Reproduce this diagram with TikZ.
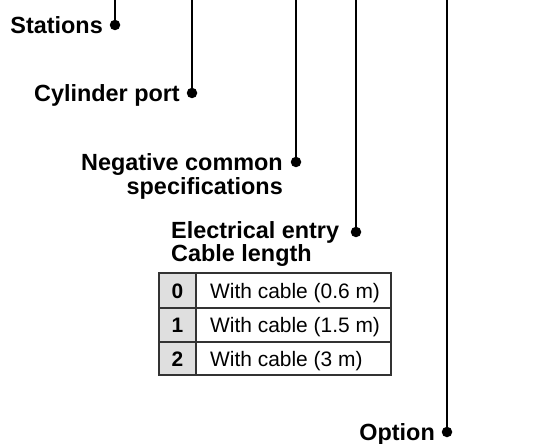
\documentclass[tikz,border=0pt]{standalone}
\usepackage{fontspec}
\setmainfont{Liberation Sans}
\definecolor{cellgray}{HTML}{DFDFDF}
\begin{document}
\begin{tikzpicture}[x=1bp,y=-1bp,
  lbl/.style={inner sep=0pt,font=\bfseries\fontsize{23.5}{24}\selectfont},
  cell/.style={inner sep=0pt,font=\fontsize{21}{24}\selectfont},
  cellnum/.style={inner sep=0pt,font=\bfseries\fontsize{21}{24}\selectfont},
  dotmark/.style={circle,fill=black,inner sep=0pt,minimum size=10.5bp},
  leader/.style={line width=2bp,black},
  grid/.style={line width=1.2bp,black!80}]
\useasboundingbox (0,0) rectangle (540,444);
% leader tops
\coordinate (t1) at (115,0);
\coordinate (t2) at (192,0);
\coordinate (t3) at (296,0);
\coordinate (t4) at (356,0);
\coordinate (t5) at (447,0);
% dots
\node[dotmark] (d1) at (115,25) {};
\node[dotmark] (d2) at (192,93) {};
\node[dotmark] (d3) at (296,162) {};
\node[dotmark] (d4) at (356,232) {};
\node[dotmark] (d5) at (447,432) {};
\draw[leader] (t1) -- (d1.center);
\draw[leader] (t2) -- (d2.center);
\draw[leader] (t3) -- (d3.center);
\draw[leader] (t4) -- (d4.center);
\draw[leader] (t5) -- (d5.center);
% labels
\node[lbl,anchor=base east] (stations) at (103,33.5) {Stations};
\node[lbl,anchor=base east] (cylport) at (180,101.5) {Cylinder port};
\node[lbl,anchor=base east] (negA) at (283,170.5) {Negative common};
\node[lbl,anchor=base east] (negB) at (283,195) {specifications};
\node[lbl,anchor=base west] (elec) at (171,238.5) {Electrical entry};
\node[lbl,anchor=base west] (cable) at (171,262) {Cable length};
\node[lbl,anchor=base east] (option) at (435,440.5) {Option};
% table
\fill[cellgray] (159,273) rectangle (196,375);
\draw[grid] (159,273) rectangle (391,375);
\draw[grid] (196,273) -- (196,375);
\draw[grid] (159,308) -- (391,308);
\draw[grid] (159,342) -- (391,342);
\node[cellnum,anchor=base] (n0) at (177.5,298) {0};
\node[cellnum,anchor=base] (n1) at (177.5,332) {1};
\node[cellnum,anchor=base] (n2) at (177.5,366) {2};
\node[cell,anchor=base west] (c0) at (210,298) {With cable (0.6 m)};
\node[cell,anchor=base west] (c1) at (210,332) {With cable (1.5 m)};
\node[cell,anchor=base west] (c2) at (210,366) {With cable (3 m)};
\end{tikzpicture}
\end{document}
